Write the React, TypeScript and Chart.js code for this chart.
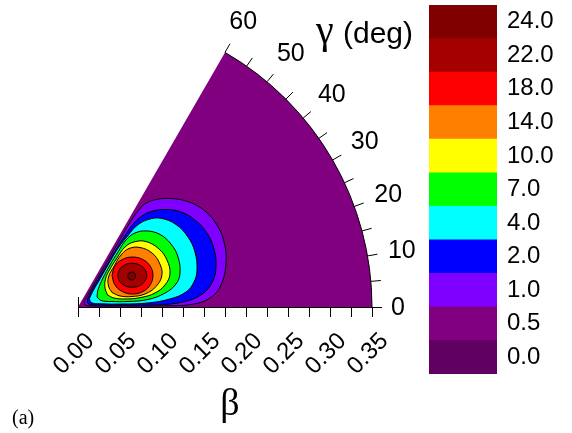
import { useEffect, useRef } from "react";
import { Chart, registerables } from "chart.js";

Chart.register(...registerables);

// ---- axes ----
const betaMax = 0.35;
const betaTicks = [0, 0.05, 0.1, 0.15, 0.2, 0.25, 0.3, 0.35];
const betaTickLabels = ["0.00", "0.05", "0.10", "0.15", "0.20", "0.25", "0.30", "0.35"];
const betaMinorTicks = [0.025, 0.075, 0.125, 0.175, 0.225, 0.275, 0.325];
const gammaMax = 60;
const gammaTicks = [0, 10, 20, 30, 40, 50, 60];
const gammaMinorTicks = [5, 15, 25, 35, 45, 55];
const betaTitle = "β";
const gammaTitle = "γ";
const gammaUnit = "(deg)";
const panelLabel = "(a)";

// ---- colour levels (colour bar, bottom to top) ----
const levelLabels = ["0.0", "0.5", "1.0", "2.0", "4.0", "7.0", "10.0", "14.0", "18.0", "22.0", "24.0"];
const levelColors = [
  "#600060", "#800080", "#8000ff", "#0000ff", "#00ffff", "#00ff00",
  "#ffff00", "#ff8000", "#ff0000", "#a50000", "#800000",
];

// ---- contour boundaries, [beta, gamma(deg)] ----
const contour1p0 = [
  [0.0118, 45.0], [0.0088, 19.7], [0.0167, 4.9], [0.0536, 1.3], [0.1071, 0.8], [0.1369, 1.4],
  [0.1575, 3.9], [0.1722, 8.7], [0.1842, 16.9], [0.1903, 24.0], [0.1921, 30.5], [0.1895, 37.1],
  [0.1819, 43.4], [0.1701, 49.4], [0.1581, 54.0], [0.1463, 57.0], [0.1348, 58.0], [0.116, 58.4],
  [0.0898, 58.0], [0.0637, 57.2], [0.0416, 56.1], [0.0225, 52.5], [0.0118, 45.0],
];
const contour2p0 = [
  [0.0148, 40.1], [0.0126, 19.3], [0.0216, 6.3], [0.0536, 2.3], [0.0953, 1.6], [0.1251, 2.7],
  [0.1471, 5.6], [0.162, 10.2], [0.1711, 16.2], [0.176, 23.1], [0.177, 29.8], [0.1736, 36.6],
  [0.1668, 42.7], [0.1564, 47.9], [0.145, 52.0], [0.1325, 54.9], [0.1202, 56.3], [0.104, 56.7],
  [0.0842, 56.5], [0.0608, 55.4], [0.0413, 53.8], [0.0249, 49.8], [0.0148, 40.1],
];
const contour4p0 = [
  [0.017, 36.5], [0.0164, 19.1], [0.0265, 8.3], [0.0537, 3.8], [0.0835, 3.3], [0.1099, 5.0],
  [0.1298, 7.9], [0.1413, 12.2], [0.1484, 17.3], [0.1539, 25.2], [0.1552, 32.5], [0.1525, 40.1],
  [0.1446, 46.9], [0.1334, 51.3], [0.1198, 54.1], [0.1047, 55.0], [0.0865, 55.7], [0.0614, 54.5],
  [0.0424, 51.8], [0.0261, 46.8], [0.017, 36.5],
];
const contour7p0 = [
  [0.0256, 27.8], [0.0284, 15.8], [0.0398, 9.5], [0.0599, 6.3], [0.0838, 6.1], [0.1049, 9.1],
  [0.1198, 13.2], [0.128, 18.4], [0.1331, 26.6], [0.1337, 34.1], [0.1303, 41.5], [0.1222, 47.8],
  [0.1112, 52.4], [0.0981, 54.4], [0.081, 54.0], [0.0629, 52.7], [0.0456, 49.2], [0.0312, 40.4],
  [0.0256, 27.8],
];
const contour10p0 = [
  [0.0379, 22.1], [0.0442, 14.0], [0.0579, 9.5], [0.0758, 8.6], [0.0932, 10.3], [0.1068, 14.2],
  [0.1163, 19.7], [0.1198, 27.8], [0.1186, 35.6], [0.1124, 43.9], [0.1021, 49.3], [0.0907, 51.9],
  [0.0746, 51.5], [0.0578, 49.6], [0.0467, 45.5], [0.0393, 35.1], [0.0379, 22.1],
];
const contour14p0 = [
  [0.044, 23.1], [0.0517, 14.7], [0.0655, 11.0], [0.0813, 11.0], [0.096, 14.7], [0.107, 20.9],
  [0.1102, 28.4], [0.1091, 36.1], [0.1023, 43.8], [0.0924, 48.9], [0.0803, 50.4], [0.0658, 48.7],
  [0.0509, 44.5], [0.0441, 34.5], [0.044, 23.1],
];
const contour18p0 = [
  [0.0552, 42.8], [0.0512, 31.2], [0.0558, 19.3], [0.0667, 13.4], [0.0793, 13.4], [0.09, 17.1],
  [0.0968, 22.8], [0.0988, 29.4], [0.0956, 36.3], [0.088, 42.5], [0.0773, 47.0], [0.0653, 48.0],
  [0.0552, 42.8],
];
const contour22p0 = [
  [0.0605, 38.6], [0.0582, 31.7], [0.0614, 24.4], [0.0687, 20.0], [0.0774, 19.1], [0.0851, 21.1],
  [0.0901, 24.8], [0.0913, 29.4], [0.0887, 34.4], [0.0829, 38.9], [0.0751, 41.9], [0.0669, 42.2],
  [0.0605, 38.6],
];
const contour24p0 = [
  [0.0697, 31.9], [0.0693, 29.0], [0.0716, 26.7], [0.0752, 26.5], [0.078, 28.2], [0.0784, 30.9],
  [0.0763, 33.1], [0.0727, 33.6], [0.0697, 31.9],
];

const FONT_SANS = "'Liberation Sans', Arial, Helvetica, sans-serif";
const FONT_SERIF = "'Liberation Serif', 'Times New Roman', serif";
const RAD = Math.PI / 180;

const toXY = (p: number[]) => ({ x: p[0] * Math.cos(p[1] * RAD), y: p[0] * Math.sin(p[1] * RAD) });

const polarAxes = {
  id: "polarAxes",
  afterDatasetsDraw(chart: any) {
    const ctx = chart.ctx as CanvasRenderingContext2D;
    const xs = chart.scales.x;
    const ys = chart.scales.y;
    const ox = xs.getPixelForValue(0);
    const oy = ys.getPixelForValue(0);
    const R = xs.getPixelForValue(betaMax) - ox;
    ctx.save();
    ctx.strokeStyle = "#000";
    ctx.lineWidth = 1;
    // beta axis line and ticks
    ctx.beginPath();
    ctx.moveTo(ox, oy + 0.5);
    ctx.lineTo(ox + R + 10, oy + 0.5);
    [...betaTicks, ...betaMinorTicks].forEach((b) => {
      const x = Math.round(xs.getPixelForValue(b)) + 0.5;
      ctx.moveTo(x, oy);
      ctx.lineTo(x, oy + 10);
    });
    ctx.moveTo(Math.round(ox) + 0.5, oy - 10);
    ctx.lineTo(Math.round(ox) + 0.5, oy);
    ctx.stroke();
    // outer arc
    ctx.beginPath();
    ctx.arc(ox, oy, R, -gammaMax * RAD, 0);
    ctx.stroke();
    // gamma ticks
    ctx.beginPath();
    [...gammaTicks, ...gammaMinorTicks].forEach((g) => {
      if (g === 0) return;
      const c = Math.cos(g * RAD);
      const s = Math.sin(g * RAD);
      ctx.moveTo(ox + R * c, oy - R * s);
      ctx.lineTo(ox + (R + 10) * c, oy - (R + 10) * s);
    });
    ctx.stroke();

    ctx.fillStyle = "#000";
    // gamma labels
    ctx.font = `25px ${FONT_SANS}`;
    ctx.textAlign = "center";
    ctx.textBaseline = "middle";
    gammaTicks.forEach((g) => {
      const t = String(g);
      const w = ctx.measureText(t).width;
      const c = Math.cos(g * RAD);
      const s = Math.sin(g * RAD);
      const r = R + 19 + Math.abs(c) * (w / 2) + Math.abs(s) * 12;
      ctx.fillText(t, ox + r * c, oy - r * s + 1);
    });
    // beta labels (rotated)
    ctx.font = `24px ${FONT_SANS}`;
    betaTicks.forEach((b, i) => {
      const x = xs.getPixelForValue(b);
      ctx.save();
      ctx.translate(x - 4, oy + 47);
      ctx.rotate(-Math.PI / 4);
      ctx.fillText(betaTickLabels[i], 0, 0);
      ctx.restore();
    });
    // titles
    ctx.textBaseline = "alphabetic";
    ctx.textAlign = "center";
    ctx.font = `38px ${FONT_SERIF}`;
    ctx.fillText(betaTitle, ox + 152, oy + 108);
    ctx.textAlign = "left";
    ctx.font = `40px ${FONT_SERIF}`;
    ctx.fillText(gammaTitle, ox + 238, oy - 264);
    ctx.font = `30px ${FONT_SANS}`;
    ctx.fillText(gammaUnit, ox + 265, oy - 264);
    ctx.font = `20px ${FONT_SERIF}`;
    ctx.fillText(panelLabel, ox - 66, oy + 117);
    ctx.restore();
  },
};

export default function App() {
  const mainRef = useRef<HTMLCanvasElement>(null);
  const barRef = useRef<HTMLCanvasElement>(null);

  useEffect(() => {
    const contours = [
      { pts: contour24p0, level: 10 },
      { pts: contour22p0, level: 9 },
      { pts: contour18p0, level: 8 },
      { pts: contour14p0, level: 7 },
      { pts: contour10p0, level: 6 },
      { pts: contour7p0, level: 5 },
      { pts: contour4p0, level: 4 },
      { pts: contour2p0, level: 3 },
      { pts: contour1p0, level: 2 },
    ];
    const sector: { x: number; y: number }[] = [{ x: 0, y: 0 }];
    for (let g = 0; g <= gammaMax + 1e-9; g += 2.5) sector.push(toXY([betaMax, g]));
    sector.push({ x: 0, y: 0 });

    const datasets: any[] = contours.map((c, i) => ({
      label: levelLabels[c.level],
      data: c.pts.map(toXY),
      showLine: true,
      fill: "shape",
      backgroundColor: levelColors[c.level],
      borderColor: "#000",
      borderWidth: 1,
      pointRadius: 0,
      tension: 0.4,
      clip: false,
      order: i,
    }));
    datasets.push({
      label: levelLabels[1],
      data: sector,
      showLine: true,
      fill: "shape",
      backgroundColor: levelColors[1],
      borderColor: "rgba(0,0,0,0)",
      borderWidth: 1,
      pointRadius: 0,
      tension: 0,
      clip: false,
      order: 50,
    });

    const main = new Chart(mainRef.current as HTMLCanvasElement, {
      type: "scatter",
      data: { datasets },
      options: {
        responsive: false,
        animation: false,
        devicePixelRatio: 1,
        events: [],
        layout: { padding: { left: 78, right: 200, top: 13, bottom: 126 } },
        scales: {
          x: { type: "linear", min: 0, max: betaMax, display: false },
          y: { type: "linear", min: 0, max: betaMax, display: false },
        },
        plugins: { legend: { display: false }, tooltip: { enabled: false } },
      } as any,
      plugins: [polarAxes as any],
    });

    const bar = new Chart(barRef.current as HTMLCanvasElement, {
      type: "bar",
      data: {
        labels: [""],
        datasets: levelLabels.map((l, i) => ({
          label: l,
          data: [1],
          backgroundColor: levelColors[i],
          borderWidth: 0,
          barPercentage: 1,
          categoryPercentage: 1,
        })),
      },
      options: {
        responsive: false,
        animation: false,
        devicePixelRatio: 1,
        events: [],
        layout: { padding: { left: 9, right: 0, top: 5, bottom: 59 } },
        scales: {
          x: { stacked: true, display: false },
          y: {
            stacked: true,
            min: 0,
            max: levelLabels.length,
            position: "right",
            grid: { display: false, drawTicks: false },
            border: { display: false },
            afterBuildTicks: (s: any) => {
              s.ticks = levelLabels.map((_, i) => ({ value: i + 0.5 }));
            },
            afterFit: (s: any) => {
              s.width = 75;
              s.paddingTop = 0;
              s.paddingBottom = 0;
              s.paddingLeft = 0;
              s.paddingRight = 0;
            },
            ticks: {
              autoSkip: false,
              padding: 10,
              color: "#000",
              font: { family: FONT_SANS, size: 24 },
              callback: (_v: any, i: number) => levelLabels[i],
            },
          },
        },
        plugins: { legend: { display: false }, tooltip: { enabled: false } },
      } as any,
    });

    return () => {
      main.destroy();
      bar.destroy();
    };
  }, []);

  return (
    <div style={{ position: "absolute", left: 0, top: 0, width: 572, height: 433, background: "#fff" }}>
      <canvas ref={mainRef} width={572} height={433} style={{ position: "absolute", left: 0, top: 0 }} />
      <canvas ref={barRef} width={152} height={433} style={{ position: "absolute", left: 420, top: 0 }} />
    </div>
  );
}
